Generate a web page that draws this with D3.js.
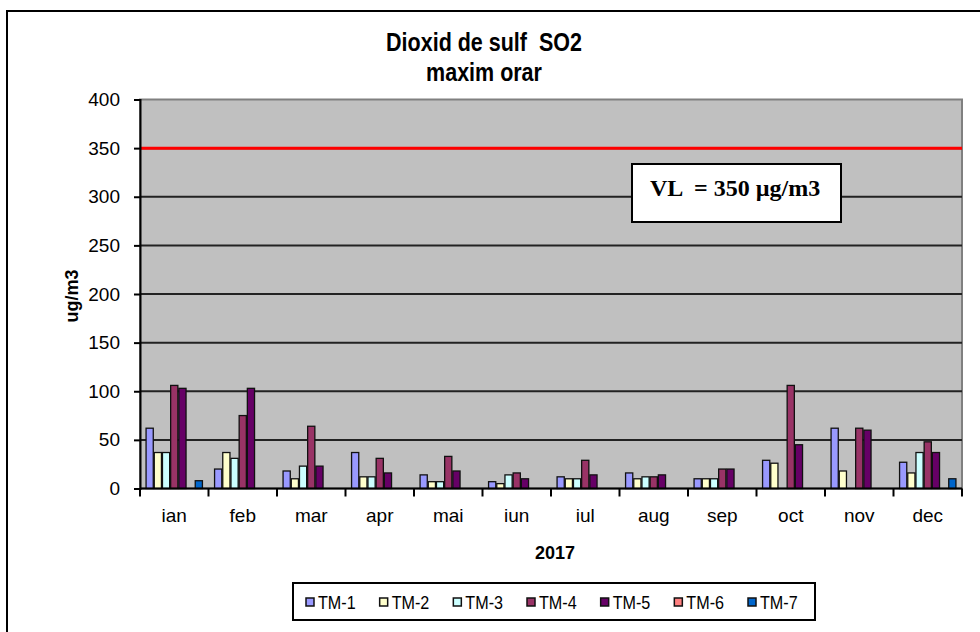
<!DOCTYPE html>
<html>
<head>
<meta charset="utf-8">
<script src="https://cdn.jsdelivr.net/npm/d3@7"></script>
<style>
  body { margin: 0; background: #fff; }
  svg { display: block; font-family: Arial, "Liberation Sans", sans-serif; }
</style>
</head>
<body>
<div id="chart"></div>
<script>
// months (categories)
const months = ["ian", "feb", "mar", "apr", "mai", "iun", "iul", "aug", "sep", "oct", "nov", "dec"];
const seriesNames = ["TM-1", "TM-2", "TM-3", "TM-4", "TM-5", "TM-6", "TM-7"];
const seriesColors = ["#9999FF", "#FFFFCC", "#CCFFFF", "#993366", "#660066", "#FF8080", "#0066CC"];

// hourly max values per station, ug/m3 (null = no data)
const tm1 = [62, 20, 18, 37, 14, 7, 12, 16, 10, 29, 62, 27];
const tm2 = [37, 37, 10, 12, 7, 5, 10, 10, 10, 26, 18, 16];
const tm3 = [37, 31, 23, 12, 7, 14, 10, 12, 10, null, null, 37];
const tm4 = [106, 75, 64, 31, 33, 16, 29, 12, 20, 106, 62, 48];
const tm5 = [103, 103, 23, 16, 18, 10, 14, 14, 20, 45, 60, 37];
const tm6 = [null, null, null, null, null, null, null, null, null, null, null, null];
const tm7 = [8, null, null, null, null, null, null, null, null, null, null, 10];
const allSeries = [tm1, tm2, tm3, tm4, tm5, tm6, tm7];

const yTicks = [0, 50, 100, 150, 200, 250, 300, 350, 400];
const limitValue = 350;

const width = 980, height = 632;
const plot = { left: 140, right: 962, top: 99.5, bottom: 488.5 };

const svg = d3.select("#chart").append("svg")
  .attr("width", width)
  .attr("height", height);

// outer chart border
svg.append("rect")
  .attr("x", 7).attr("y", 11)
  .attr("width", 1000).attr("height", 700)
  .attr("fill", "#fff")
  .attr("stroke", "#000")
  .attr("stroke-width", 2);

// scales
const x0 = d3.scaleBand().domain(months).range([plot.left, plot.right]).padding(0);
const x1 = d3.scaleBand().domain(seriesNames).range([0, x0.bandwidth()])
  .paddingInner(0).paddingOuter(0.68);
const y = d3.scaleLinear().domain([0, 400]).range([plot.bottom, plot.top]);

// plot background
svg.append("rect")
  .attr("x", plot.left).attr("y", plot.top)
  .attr("width", plot.right - plot.left)
  .attr("height", plot.bottom - plot.top)
  .attr("fill", "#C0C0C0")
  .attr("stroke", "#808080")
  .attr("stroke-width", 2);

// gridlines
svg.append("g")
  .selectAll("line")
  .data(yTicks.filter((d) => d > 0 && d < 400))
  .join("line")
  .attr("x1", plot.left).attr("x2", plot.right)
  .attr("y1", (d) => y(d)).attr("y2", (d) => y(d))
  .attr("stroke", "#222")
  .attr("stroke-width", 2);

// bars
const rows = months.map((m, i) => ({
  month: m,
  vals: seriesNames.map((s, j) => ({ series: s, color: seriesColors[j], value: allSeries[j][i] }))
}));

svg.append("g")
  .selectAll("g")
  .data(rows)
  .join("g")
  .attr("transform", (d) => `translate(${x0(d.month)},0)`)
  .selectAll("rect")
  .data((d) => d.vals.filter((v) => v.value != null))
  .join("rect")
  .attr("x", (d) => x1(d.series) + 0.5)
  .attr("y", (d) => y(d.value))
  .attr("width", x1.bandwidth() - 1)
  .attr("height", (d) => y(0) - y(d.value))
  .attr("fill", (d) => d.color)
  .attr("stroke", "#111")
  .attr("stroke-width", 1.3);

// limit line (VL = 350)
svg.append("line")
  .attr("x1", plot.left).attr("x2", plot.right)
  .attr("y1", y(limitValue)).attr("y2", y(limitValue))
  .attr("stroke", "#FF0000")
  .attr("stroke-width", 3);

// y axis
const yAxis = svg.append("g")
  .attr("transform", `translate(${plot.left},0)`)
  .call(d3.axisLeft(y).tickValues(yTicks).tickSize(6).tickPadding(14));
yAxis.select(".domain").attr("stroke", "#000").attr("stroke-width", 2);
yAxis.selectAll(".tick line").attr("stroke", "#000").attr("stroke-width", 2);
yAxis.selectAll("text")
  .attr("font-size", 19)
  .attr("font-family", "Arial, 'Liberation Sans', sans-serif")
  .attr("fill", "#000");

// x axis: ticks at category boundaries
svg.append("line")
  .attr("x1", plot.left).attr("x2", plot.right)
  .attr("y1", plot.bottom).attr("y2", plot.bottom)
  .attr("stroke", "#000").attr("stroke-width", 2);
const bounds = months.map((m) => x0(m)).concat([plot.right]);
svg.append("g")
  .selectAll("line")
  .data(bounds)
  .join("line")
  .attr("x1", (d) => d).attr("x2", (d) => d)
  .attr("y1", plot.bottom).attr("y2", plot.bottom + 8)
  .attr("stroke", "#000").attr("stroke-width", 2);
svg.append("g")
  .selectAll("text")
  .data(months)
  .join("text")
  .attr("x", (d) => x0(d) + x0.bandwidth() / 2)
  .attr("y", 522)
  .attr("text-anchor", "middle")
  .attr("font-size", 19)
  .text((d) => d);

// titles (slightly condensed, like the original)
svg.append("text")
  .attr("transform", "translate(484,51) scale(0.86,1)")
  .attr("text-anchor", "middle")
  .attr("font-size", 25).attr("font-weight", "bold")
  .attr("xml:space", "preserve")
  .text("Dioxid de sulf  SO2");
svg.append("text")
  .attr("transform", "translate(484,81) scale(0.86,1)")
  .attr("text-anchor", "middle")
  .attr("font-size", 25).attr("font-weight", "bold")
  .text("maxim orar");
svg.append("text")
  .attr("x", 555).attr("y", 559)
  .attr("text-anchor", "middle")
  .attr("font-size", 18).attr("font-weight", "bold")
  .text("2017");
svg.append("text")
  .attr("transform", "translate(78,296) rotate(-90)")
  .attr("text-anchor", "middle")
  .attr("font-size", 18).attr("font-weight", "bold")
  .text("ug/m3");

// VL annotation box
svg.append("rect")
  .attr("x", 632).attr("y", 164)
  .attr("width", 209).attr("height", 58)
  .attr("fill", "#fff")
  .attr("stroke", "#000")
  .attr("stroke-width", 2);
svg.append("text")
  .attr("x", 650).attr("y", 196)
  .attr("font-family", "'Times New Roman', 'Liberation Serif', serif")
  .attr("font-size", 24).attr("font-weight", "bold")
  .attr("xml:space", "preserve")
  .text("VL  = 350 µg/m3");

// legend
const legend = svg.append("g");
legend.append("rect")
  .attr("x", 293).attr("y", 583)
  .attr("width", 522).attr("height", 37)
  .attr("fill", "#fff")
  .attr("stroke", "#000")
  .attr("stroke-width", 2);
const legendX = d3.scalePoint().domain(seriesNames).range([306, 748]);
const items = legend.selectAll("g.item")
  .data(seriesNames)
  .join("g")
  .attr("class", "item")
  .attr("transform", (d) => `translate(${legendX(d)},602)`);
items.append("rect")
  .attr("x", 0).attr("y", -4)
  .attr("width", 8).attr("height", 8)
  .attr("fill", (d, i) => seriesColors[i])
  .attr("stroke", "#111")
  .attr("stroke-width", 1.5);
items.append("text")
  .attr("transform", "translate(12,7) scale(0.85,1)")
  .attr("font-size", 19)
  .text((d) => d);
</script>
</body>
</html>
